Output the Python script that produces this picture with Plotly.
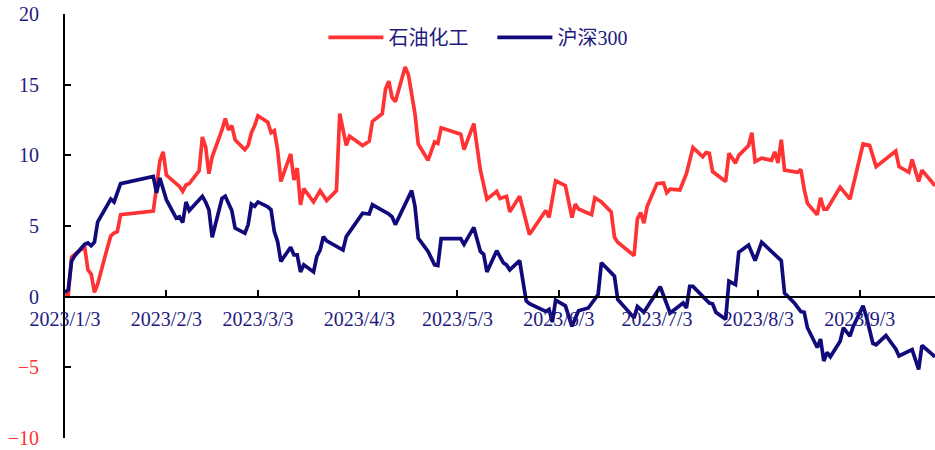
import plotly.graph_objects as go

# ---------------- data ----------------
series_names = ["石油化工", "沪深300"]

petro_dates = [
    "2023-01-03", "2023-01-04", "2023-01-05", "2023-01-06", "2023-01-09", "2023-01-10", "2023-01-11",
    "2023-01-12", "2023-01-13", "2023-01-16", "2023-01-17", "2023-01-18", "2023-01-19", "2023-01-20",
    "2023-01-30", "2023-01-31", "2023-02-01", "2023-02-02", "2023-02-03", "2023-02-06", "2023-02-07",
    "2023-02-08", "2023-02-09", "2023-02-10", "2023-02-13", "2023-02-14", "2023-02-15", "2023-02-16",
    "2023-02-17", "2023-02-20", "2023-02-21", "2023-02-22", "2023-02-23", "2023-02-24", "2023-02-27",
    "2023-02-28", "2023-03-01", "2023-03-02", "2023-03-03", "2023-03-06", "2023-03-07", "2023-03-08",
    "2023-03-09", "2023-03-10", "2023-03-13", "2023-03-14", "2023-03-15", "2023-03-16", "2023-03-17",
    "2023-03-20", "2023-03-22", "2023-03-24", "2023-03-27", "2023-03-28", "2023-03-30", "2023-03-31",
    "2023-04-04", "2023-04-06", "2023-04-07", "2023-04-10", "2023-04-11", "2023-04-12", "2023-04-13",
    "2023-04-14", "2023-04-17", "2023-04-18", "2023-04-20", "2023-04-21", "2023-04-24", "2023-04-26",
    "2023-04-27", "2023-04-28", "2023-05-04", "2023-05-05", "2023-05-08", "2023-05-10", "2023-05-12",
    "2023-05-15", "2023-05-16", "2023-05-18", "2023-05-19", "2023-05-22", "2023-05-25", "2023-05-30",
    "2023-05-31", "2023-06-02", "2023-06-05", "2023-06-07", "2023-06-08", "2023-06-09", "2023-06-13",
    "2023-06-14", "2023-06-16", "2023-06-19", "2023-06-20", "2023-06-21", "2023-06-26", "2023-06-27",
    "2023-06-28", "2023-06-29", "2023-06-30", "2023-07-03", "2023-07-05", "2023-07-06", "2023-07-07",
    "2023-07-10", "2023-07-12", "2023-07-14", "2023-07-17", "2023-07-18", "2023-07-19", "2023-07-20",
    "2023-07-24", "2023-07-25", "2023-07-27", "2023-07-28", "2023-07-31", "2023-08-01", "2023-08-02",
    "2023-08-04", "2023-08-07", "2023-08-08", "2023-08-09", "2023-08-10", "2023-08-11", "2023-08-15",
    "2023-08-16", "2023-08-17", "2023-08-18", "2023-08-21", "2023-08-22", "2023-08-23", "2023-08-24",
    "2023-08-28", "2023-08-31", "2023-09-04", "2023-09-06", "2023-09-08", "2023-09-14", "2023-09-15",
    "2023-09-18", "2023-09-19", "2023-09-21", "2023-09-22", "2023-09-26",
]
petro_vals = [
    0.2, 0.1, 2.8, 3.0, 3.55, 1.9, 1.6,
    0.3, 0.9, 3.5, 4.3, 4.5, 4.6, 5.8,
    6.05, 7.8, 9.6, 10.25, 8.6, 8.0, 7.8,
    7.45, 7.9, 8.0, 8.9, 11.3, 10.6, 8.7,
    9.9, 11.8, 12.6, 11.8, 12.1, 11.1, 10.4,
    10.7, 11.6, 12.1, 12.8, 12.35, 11.6, 11.75,
    10.4, 8.15, 10.1, 8.25, 9.1, 6.5, 7.65,
    6.7, 7.5, 6.8, 7.5, 12.95, 10.7, 11.35,
    10.7, 11.0, 12.4, 12.95, 14.7, 15.25, 14.1,
    13.8, 16.25, 15.7, 12.95, 10.8, 9.65, 10.95,
    10.85, 11.95, 11.5, 10.4, 12.25, 8.95, 6.9,
    7.45, 6.95, 7.1, 6.0, 7.1, 4.4, 6.1,
    5.6, 8.2, 7.85, 5.6, 6.55, 6.2, 5.8,
    7.0, 6.7, 6.0, 4.2, 3.85, 2.9, 5.5,
    5.95, 5.2, 6.4, 8.0, 8.05, 7.35, 7.6,
    7.55, 8.7, 10.55, 9.9, 10.2, 10.15, 8.85,
    8.15, 10.15, 9.45, 10.0, 10.7, 11.6, 9.55,
    9.8, 9.65, 10.25, 9.45, 11.1, 8.95, 8.8,
    9.0, 7.6, 6.6, 5.8, 7.0, 6.2, 6.2,
    7.75, 6.9, 10.8, 10.7, 9.2, 10.3, 9.2,
    8.8, 9.7, 8.15, 8.95, 7.85,
]

hs300_dates = [
    "2023-01-03", "2023-01-04", "2023-01-05", "2023-01-06", "2023-01-09", "2023-01-10", "2023-01-11",
    "2023-01-12", "2023-01-13", "2023-01-16", "2023-01-17", "2023-01-18", "2023-01-19", "2023-01-20",
    "2023-01-30", "2023-01-31", "2023-02-01", "2023-02-02", "2023-02-03", "2023-02-06", "2023-02-07",
    "2023-02-08", "2023-02-09", "2023-02-10", "2023-02-13", "2023-02-14", "2023-02-15", "2023-02-16",
    "2023-02-17", "2023-02-20", "2023-02-21", "2023-02-23", "2023-02-24", "2023-02-27", "2023-02-28",
    "2023-03-01", "2023-03-02", "2023-03-03", "2023-03-06", "2023-03-07", "2023-03-08", "2023-03-09",
    "2023-03-10", "2023-03-13", "2023-03-14", "2023-03-15", "2023-03-16", "2023-03-17", "2023-03-20",
    "2023-03-21", "2023-03-22", "2023-03-23", "2023-03-24", "2023-03-27", "2023-03-29", "2023-03-30",
    "2023-04-04", "2023-04-06", "2023-04-07", "2023-04-12", "2023-04-13", "2023-04-14", "2023-04-19",
    "2023-04-20", "2023-04-21", "2023-04-24", "2023-04-26", "2023-04-27", "2023-04-28", "2023-05-04",
    "2023-05-05", "2023-05-08", "2023-05-10", "2023-05-11", "2023-05-12", "2023-05-15", "2023-05-17",
    "2023-05-18", "2023-05-19", "2023-05-22", "2023-05-24", "2023-05-25", "2023-05-30", "2023-05-31",
    "2023-06-01", "2023-06-02", "2023-06-05", "2023-06-07", "2023-06-09", "2023-06-12", "2023-06-14",
    "2023-06-15", "2023-06-16", "2023-06-20", "2023-06-21", "2023-06-26", "2023-06-27", "2023-06-29",
    "2023-07-04", "2023-07-07", "2023-07-11", "2023-07-12", "2023-07-13", "2023-07-14", "2023-07-19",
    "2023-07-20", "2023-07-21", "2023-07-24", "2023-07-25", "2023-07-27", "2023-07-28", "2023-07-31",
    "2023-08-02", "2023-08-04", "2023-08-10", "2023-08-11", "2023-08-14", "2023-08-16", "2023-08-17",
    "2023-08-18", "2023-08-21", "2023-08-22", "2023-08-23", "2023-08-24", "2023-08-25", "2023-08-28",
    "2023-08-29", "2023-08-31", "2023-09-01", "2023-09-04", "2023-09-05", "2023-09-07", "2023-09-08",
    "2023-09-11", "2023-09-14", "2023-09-15", "2023-09-19", "2023-09-21", "2023-09-22", "2023-09-26",
]
hs300_vals = [
    0.3, 0.5, 2.5, 2.9, 3.7, 3.8, 3.6,
    3.85, 5.3, 6.6, 6.9, 6.7, 7.4, 8.0,
    8.5, 7.35, 8.4, 7.7, 6.85, 5.55, 5.65,
    5.25, 6.7, 6.1, 6.8, 7.1, 6.7, 6.15,
    4.2, 6.95, 7.1, 6.1, 4.85, 4.5, 5.1,
    6.55, 6.4, 6.7, 6.35, 6.15, 4.6, 3.9,
    2.5, 3.5, 2.95, 2.95, 1.75, 2.25, 1.75,
    2.85, 3.3, 4.25, 3.95, 3.6, 3.3, 4.25,
    5.9, 5.85, 6.5, 5.85, 5.65, 5.1, 7.5,
    6.4, 4.15, 3.2, 2.25, 2.2, 4.1, 4.1,
    3.7, 4.9, 3.2, 3.0, 1.75, 3.25, 2.4,
    2.25, 1.9, 2.55, -0.3, -0.5, -1.05, -0.9,
    -1.8, -0.25, -0.65, -2.1, -1.0, -0.8, -0.2,
    0.15, 2.4, 1.45, -0.2, -1.5, -0.7, -1.1,
    0.7, -1.15, -0.45, -0.8, 0.73, 0.73, -0.45,
    -0.5, -1.1, -1.6, 1.1, 0.85, 3.15, 3.65,
    2.55, 3.85, 2.55, 0.25, -0.45, -1.05, -1.1,
    -2.2, -3.6, -3.0, -4.55, -3.95, -4.25, -3.15,
    -2.2, -2.8, -2.1, -0.65, -1.4, -3.3, -3.4,
    -2.75, -3.7, -4.2, -3.75, -5.15, -3.45, -4.25,
]

x_tick_dates = ["2023-01-03", "2023-02-03", "2023-03-03", "2023-04-03", "2023-05-03",
                "2023-06-03", "2023-07-03", "2023-08-03", "2023-09-03"]
x_tick_labels = ["2023/1/3", "2023/2/3", "2023/3/3", "2023/4/3", "2023/5/3",
                 "2023/6/3", "2023/7/3", "2023/8/3", "2023/9/3"]
y_tick_vals = [-10, -5, 0, 5, 10, 15, 20]
y_tick_labels = ["−10", "−5", "0", "5", "10", "15", "20"]

# ---------------- style ----------------
RED = "#FF3333"
NAVY = "#100A7A"
TEXT_NAVY = "#1E1A80"
FONT = "Liberation Serif, Times New Roman, Noto Sans CJK SC, serif"

y_ticktext = [
    f'<span style="color:{RED}">{t}</span>' if v < 0 else t
    for v, t in zip(y_tick_vals, y_tick_labels)
]

fig = go.Figure()
fig.add_trace(go.Scatter(x=petro_dates, y=petro_vals, mode="lines", name=series_names[0],
                         line=dict(color=RED, width=3.7)))
fig.add_trace(go.Scatter(x=hs300_dates, y=hs300_vals, mode="lines", name=series_names[1],
                         line=dict(color=NAVY, width=3.7)))

fig.update_layout(
    width=935, height=450,
    margin=dict(l=65, r=0, t=14, b=12, autoexpand=False),
    paper_bgcolor="white", plot_bgcolor="white",
    font=dict(family=FONT, size=20, color=TEXT_NAVY),
    showlegend=True,
    legend=dict(orientation="h", x=0.297, y=0.945, xanchor="left", yanchor="middle",
                bgcolor="rgba(0,0,0,0)", font=dict(size=20, color=TEXT_NAVY),
                itemwidth=55, entrywidth=99, entrywidthmode="pixels", tracegroupgap=0),
    xaxis=dict(
        type="date",
        range=["2023-01-03", "2023-09-26"],
        anchor="free", position=1/3,
        automargin=False,
        showline=True, linecolor="black", linewidth=2,
        showgrid=False, zeroline=False,
        tickmode="array", tickvals=x_tick_dates, ticktext=x_tick_labels,
        ticks="inside", ticklen=6, tickwidth=2, tickcolor="black",
        ticklabelstandoff=4, ticklabeloverflow="allow",
        tickfont=dict(family=FONT, size=20, color=TEXT_NAVY),
    ),
    yaxis=dict(
        range=[-10, 20],
        automargin=False,
        showline=True, linecolor="black", linewidth=2,
        showgrid=False, zeroline=False,
        tickmode="array", tickvals=y_tick_vals, ticktext=y_ticktext,
        ticks="inside", ticklen=6, tickwidth=2, tickcolor="black",
        ticklabelstandoff=20, ticklabeloverflow="allow",
        tickfont=dict(family=FONT, size=20, color=TEXT_NAVY),
    ),
)

fig.write_html(
    "out.html",
    config={"displayModeBar": False},
    post_script="document.body.style.margin='0';document.body.style.overflow='hidden';",
)
